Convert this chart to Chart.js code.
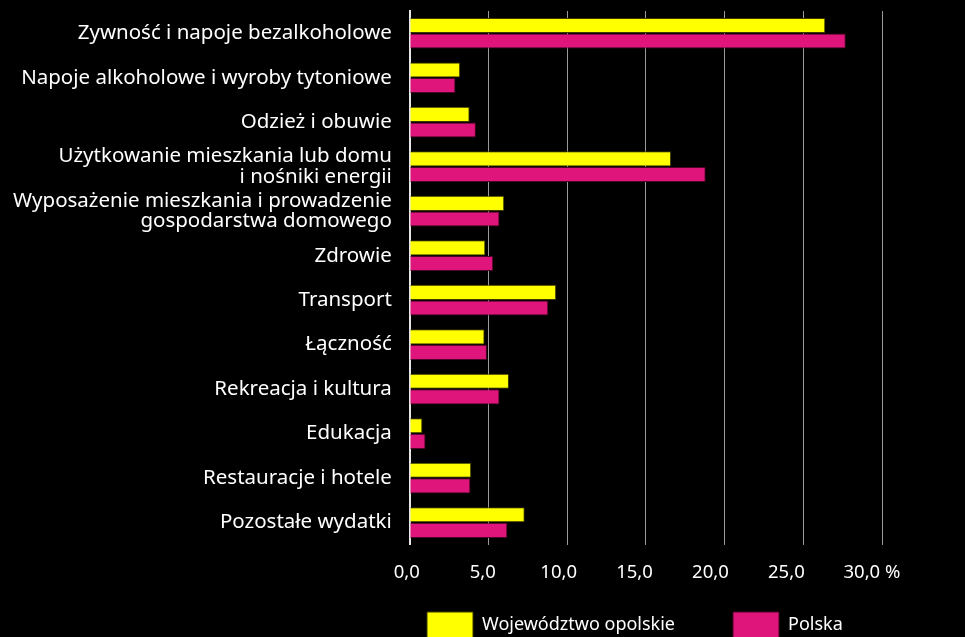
<!DOCTYPE html>
<html>
<head>
<meta charset="utf-8">
<script src="https://cdn.jsdelivr.net/npm/chart.js@4"></script>
<style>
  html, body { margin: 0; padding: 0; background: #000; overflow: hidden; }
  #wrap { width: 965px; height: 665px; }
</style>
</head>
<body>
<div id="wrap"><canvas id="chart" width="965" height="665"></canvas></div>
<script>
// kategorie wydatków
const categories = [
    'Zywność i napoje bezalkoholowe',
    'Napoje alkoholowe i wyroby tytoniowe',
    'Odzież i obuwie',
    ['Użytkowanie mieszkania lub domu', 'i nośniki energii'],
    ['Wyposażenie mieszkania i prowadzenie', 'gospodarstwa domowego'],
    'Zdrowie',
    'Transport',
    'Łączność',
    'Rekreacja i kultura',
    'Edukacja',
    'Restauracje i hotele',
    'Pozostałe wydatki'
];
const opolskie = [26.4, 3.2, 3.8, 16.6, 6.0, 4.8, 9.3, 4.75, 6.3, 0.8, 3.9, 7.3];
const polska = [27.7, 2.9, 4.2, 18.8, 5.7, 5.3, 8.8, 4.9, 5.7, 1.0, 3.85, 6.2];
const tickValues = [0, 5, 10, 15, 20, 25, 30];

const FONT = "'Noto Sans', sans-serif";

// legenda pod obszarem wykresu, a nie na środku canvasa
const legendPlace = {
    id: 'legendPlace',
    afterLayout(chart) {
        const lg = chart.legend;
        const p = lg.options.labels.padding;
        lg.left = 426 - p;
        lg.right = lg.left + lg.lineWidths[0] + p + 2;
        lg.top = 612 - p;
    }
};

const ctx = document.getElementById('chart').getContext('2d');
new Chart(ctx, {
    type: 'bar',
    data: {
        labels: categories,
        datasets: [
            {
                label: 'Województwo opolskie',
                data: opolskie,
                backgroundColor: '#ffff00',
                borderColor: '#3a3a00',
                borderWidth: 1
            },
            {
                label: 'Polska',
                data: polska,
                backgroundColor: '#df157b',
                borderColor: '#4a0626',
                borderWidth: 1
            }
        ]
    },
    options: {
        indexAxis: 'y',
        responsive: false,
        animation: false,
        layout: { padding: { top: 11, right: 83, bottom: 0, left: 13 } },
        datasets: {
            bar: { categoryPercentage: 0.7, barPercentage: 0.97 }
        },
        scales: {
            x: {
                min: 0,
                max: 30,
                afterBuildTicks: (axis) => {
                    axis.ticks = tickValues.map(v => ({ value: v }));
                },
                grid: { color: '#9a9a9a', lineWidth: 1, drawTicks: false },
                border: { display: false },
                ticks: { display: false }
            },
            // opisy osi X są w oryginale trochę ściśnięte względem siatki
            xLabels: {
                type: 'linear',
                position: 'bottom',
                min: 0,
                max: 31.1,
                afterBuildTicks: (axis) => {
                    axis.ticks = tickValues.map(v => ({ value: v }));
                },
                grid: { display: false, drawTicks: false },
                border: { display: false },
                ticks: {
                    color: '#ffffff',
                    padding: 17,
                    labelOffset: -3,
                    autoSkip: false,
                    minRotation: 0,
                    maxRotation: 0,
                    font: { family: FONT, size: 18.5 },
                    // znak % doklejony z prawej, liczba zostaje nad kreską
                    callback: (v) => {
                        const s = v.toFixed(1).replace('.', ',');
                        return v === 30 ? '    ' + s + ' %' : s;
                    }
                }
            },
            y: {
                grid: { display: false, drawTicks: true, tickLength: 18, tickColor: 'rgba(0,0,0,0)' },
                border: { display: true, color: '#e6e6e6', width: 2 },
                ticks: {
                    color: '#ffffff',
                    padding: 0,
                    autoSkip: false,
                    font: { family: FONT, size: 20.5, lineHeight: 1.0 }
                }
            }
        },
        plugins: {
            legend: {
                position: 'bottom',
                maxHeight: 64,
                labels: {
                    color: '#ffffff',
                    boxWidth: 46,
                    boxHeight: 26,
                    padding: 58,
                    font: { family: FONT, size: 18 }
                }
            },
            tooltip: { enabled: false }
        }
    },
    plugins: [legendPlace]
});
</script>
</body>
</html>
